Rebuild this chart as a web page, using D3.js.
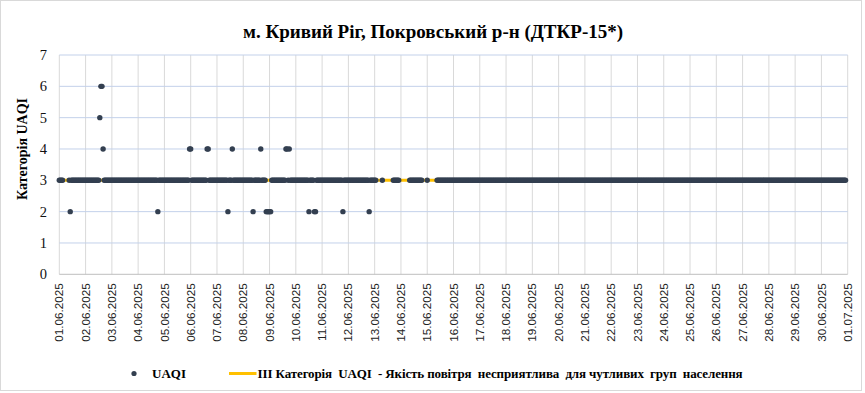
<!DOCTYPE html>
<html>
<head>
<meta charset="utf-8">
<script src="https://cdn.jsdelivr.net/npm/d3@7"></script>
<style>
  body { margin: 0; background: #fff; }
  svg { display: block; }
</style>
</head>
<body>
<div class="chart"></div>
<script>
// подписи оси X (по дням)
const dayLabels = [
  "01.06.2025", "02.06.2025", "03.06.2025", "04.06.2025", "05.06.2025", "06.06.2025",
  "07.06.2025", "08.06.2025", "09.06.2025", "10.06.2025", "11.06.2025", "12.06.2025",
  "13.06.2025", "14.06.2025", "15.06.2025", "16.06.2025", "17.06.2025", "18.06.2025",
  "19.06.2025", "20.06.2025", "21.06.2025", "22.06.2025", "23.06.2025", "24.06.2025",
  "25.06.2025", "26.06.2025", "27.06.2025", "28.06.2025", "29.06.2025", "30.06.2025",
  "01.07.2025"
];
const yTicks = [0, 1, 2, 3, 4, 5, 6, 7];

// погодинні значення: основний рівень — 3, нижче винятки (години від 01.06 00:00)
const baseCategory = 3;
const hoursCat2 = [10, 90, 154, 177, 189, 190, 191, 192, 193, 228, 233, 234, 259, 283];
const hoursCat4 = [40, 119, 120, 135, 136, 158, 184, 207, 208, 210];
const hoursCat5 = [37];
const hoursCat6 = [38, 39];
// пропуски в даних [початок, кінець]
const gapRuns = [[4, 8], [290, 294], [296, 304], [311, 319], [332, 335], [337, 344], [719, 719]];
const lastHour = 719;
const thresholdLevel = 3;

const title = "м. Кривий Ріг, Покровський р-н (ДТКР-15*)";
const yTitle = "Категорія UAQI";
const legendPoints = "UAQI";
const legendLine = "III Категорія  UAQI  - Якість повітря  несприятлива  для чутливих  груп  населення";

// таблиця точок
const exceptions = new Map();
hoursCat2.forEach(h => exceptions.set(h, 2));
hoursCat4.forEach(h => exceptions.set(h, 4));
hoursCat5.forEach(h => exceptions.set(h, 5));
hoursCat6.forEach(h => exceptions.set(h, 6));
const isGap = h => gapRuns.some(([a, b]) => h >= a && h <= b);
const points = [];
for (let h = 0; h <= lastHour; h++) {
  if (isGap(h)) continue;
  points.push({hour: h, value: exceptions.has(h) ? exceptions.get(h) : baseCategory});
}

const W = 865, H = 393;
const plot = {left: 59.3, right: 847.7, top: 55, bottom: 274.3};

const svg = d3.select(".chart").append("svg")
  .attr("width", W).attr("height", H);

svg.append("rect")
  .attr("x", 0.5).attr("y", 0.5).attr("width", 861).attr("height", 390)
  .attr("fill", "#fff").attr("stroke", "#d9d9d9");

const x = d3.scaleLinear()
  .domain([0, (dayLabels.length - 1) * 24])
  .range([plot.left, plot.right]);
const y = d3.scaleLinear()
  .domain([0, 7])
  .range([plot.bottom, plot.top]);

// вертикальна сітка
svg.append("g")
  .selectAll("line")
  .data(dayLabels)
  .join("line")
    .attr("x1", (d, i) => x(i * 24)).attr("x2", (d, i) => x(i * 24))
    .attr("y1", plot.top).attr("y2", plot.bottom)
    .attr("stroke", "#d9d9d9").attr("stroke-width", 1);

// горизонтальна сітка
svg.append("g")
  .selectAll("line")
  .data(yTicks.filter(d => d > 0))
  .join("line")
    .attr("x1", plot.left).attr("x2", plot.right)
    .attr("y1", d => y(d)).attr("y2", d => y(d))
    .attr("stroke", "#c3d1ea").attr("stroke-width", 1);

// вісь X
svg.append("line")
  .attr("x1", plot.left).attr("x2", plot.right)
  .attr("y1", y(0)).attr("y2", y(0))
  .attr("stroke", "#bfbfbf");

// підписи осі Y
svg.append("g")
  .selectAll("text")
  .data(yTicks)
  .join("text")
    .attr("x", 47)
    .attr("y", d => y(d))
    .attr("dy", "0.35em")
    .attr("text-anchor", "end")
    .style("font-family", "'Liberation Serif', serif")
    .style("font-size", "14.5px")
    .attr("fill", "#111")
    .text(d => d);

// підписи осі X
svg.append("g")
  .selectAll("text")
  .data(dayLabels)
  .join("text")
    .attr("transform", (d, i) => `translate(${x(i * 24)},283.3) rotate(-90)`)
    .attr("dy", "0.35em")
    .attr("text-anchor", "end")
    .style("font-family", "'Liberation Sans', Arial, sans-serif")
    .style("font-size", "11.7px")
    .attr("fill", "#222")
    .text(d => d);

// лінія III категорії
svg.append("line")
  .attr("x1", x(0)).attr("x2", x(lastHour))
  .attr("y1", y(thresholdLevel)).attr("y2", y(thresholdLevel))
  .attr("stroke", "#ffc000").attr("stroke-width", 3);

// точки UAQI
svg.append("g")
  .selectAll("circle")
  .data(points)
  .join("circle")
    .attr("cx", d => x(d.hour))
    .attr("cy", d => y(d.value))
    .attr("r", 2.7)
    .attr("fill", "#333f50");

// заголовок
svg.append("text")
  .attr("x", 433).attr("y", 38.3)
  .attr("text-anchor", "middle")
  .style("font-family", "'Liberation Serif', serif")
  .style("font-size", "19px")
  .style("font-weight", "bold")
  .text(title);

// назва осі Y
svg.append("text")
  .attr("transform", "translate(26.5,149) rotate(-90)")
  .attr("text-anchor", "middle")
  .style("font-family", "'Liberation Serif', serif")
  .style("font-size", "14px")
  .style("font-weight", "bold")
  .text(yTitle);

// легенда
const legendY = 373.5;
svg.append("circle")
  .attr("cx", 134).attr("cy", legendY).attr("r", 2.6).attr("fill", "#333f50");
svg.append("text")
  .attr("x", 152).attr("y", legendY).attr("dy", "0.35em")
  .style("font-family", "'Liberation Serif', serif")
  .style("font-size", "13px").style("font-weight", "bold")
  .attr("textLength", 34).attr("lengthAdjust", "spacingAndGlyphs")
  .text(legendPoints);
svg.append("line")
  .attr("x1", 229).attr("x2", 256.5)
  .attr("y1", legendY).attr("y2", legendY)
  .attr("stroke", "#ffc000").attr("stroke-width", 3);
svg.append("text")
  .attr("x", 257.6).attr("y", legendY).attr("dy", "0.35em")
  .style("font-family", "'Liberation Serif', serif")
  .style("font-size", "13px").style("font-weight", "bold")
  .style("white-space", "pre")
  .attr("textLength", 485).attr("lengthAdjust", "spacing")
  .text(legendLine);
</script>
</body>
</html>
